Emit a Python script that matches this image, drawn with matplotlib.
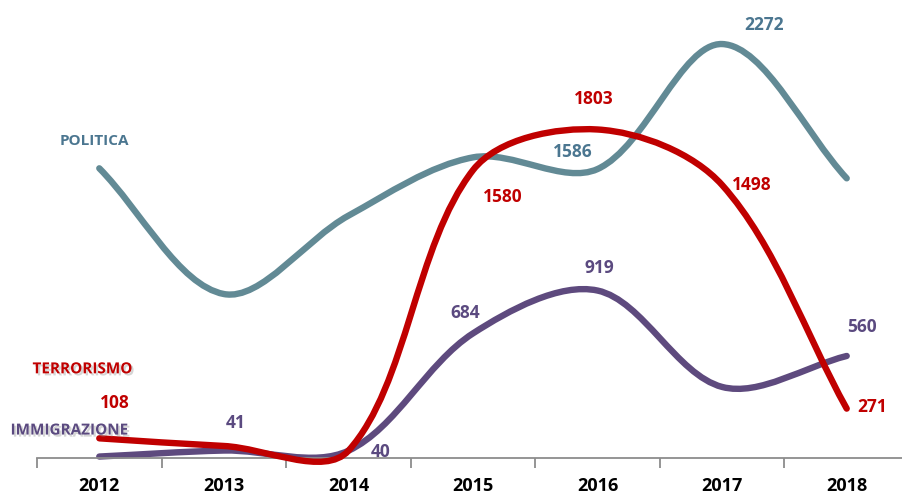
import numpy as np
import matplotlib
matplotlib.use('Agg')
import matplotlib.pyplot as plt
from matplotlib.path import Path
from matplotlib.patches import PathPatch
import matplotlib.patheffects as pe

plt.rcParams['font.family'] = ['Open Sans', 'DejaVu Sans']

years = ['2012', '2013', '2014', '2015', '2016', '2017', '2018']
politica = [1590, 900, 1330, 1650, 1586, 2272, 1535]
terrorismo = [108, 66, 40, 1580, 1803, 1498, 271]
immigrazione = [8, 41, 40, 684, 919, 390, 560]

C_POL = '#628a95'
C_POL_TXT = '#4b7690'
C_TER = '#c00000'
C_IMM = '#5e4a7e'
C_IMM_TXT = '#5b4a80'

fig = plt.figure(figsize=(9.03, 4.95), dpi=100)
ax = fig.add_axes([37 / 903, 37 / 495, 872 / 903, 455.5 / 495])
ax.set_xlim(-0.5, 6.5)
ax.set_ylim(0, 2500)

for s in ['top', 'right', 'left']:
    ax.spines[s].set_visible(False)
ax.spines['bottom'].set_color('#8c8c8c')
ax.spines['bottom'].set_linewidth(1.3)
ax.set_yticks([])
x = np.arange(len(years))
ax.set_xticks(x)
ax.set_xticklabels(years, fontsize=13, fontweight='bold', color='black')
ax.set_xticks(np.arange(-0.5, 7, 1), minor=True)
ax.tick_params(axis='x', which='major', length=0, pad=14)
ax.tick_params(axis='x', which='minor', length=7, width=1.3, color='#8c8c8c', direction='out')


def smooth_path(xs, ys):
    pts = ax.transData.transform(np.column_stack([xs, ys]).astype(float))
    n = len(pts)
    d = np.hypot(*np.diff(pts, axis=0).T)
    verts = [pts[0]]
    codes = [Path.MOVETO]
    for i in range(n - 1):
        p0, p1 = pts[i], pts[i + 1]
        prev = pts[i - 1] if i > 0 else pts[i]
        nxt = pts[i + 2] if i + 2 < n else pts[i + 1]
        dprev = d[i - 1] if i > 0 else 0.0
        dnext = d[i + 1] if i + 2 < n else 0.0
        c1 = p0 + (p1 - prev) / 3 * d[i] / (dprev + d[i])
        c2 = p1 - (nxt - p0) / 3 * d[i] / (d[i] + dnext)
        verts += [c1, c2, p1]
        codes += [Path.CURVE4] * 3
    vd = ax.transData.inverted().transform(np.array(verts))
    return Path(vd, codes)


for vals, col, z in [(immigrazione, C_IMM, 2), (politica, C_POL, 3), (terrorismo, C_TER, 4)]:
    patch = PathPatch(smooth_path(x, vals), fill=False, edgecolor=col, lw=4.6,
                      capstyle='round', joinstyle='round', zorder=z, clip_on=False)
    ax.add_patch(patch)

def lab(i, series, text, dx, dy, color, size=12.5, shadow=False):
    t = ax.annotate(text, xy=(i, series[i]), xytext=(dx, dy), textcoords='offset pixels',
                    ha='center', va='center', fontsize=size, fontweight='bold', color=color,
                    zorder=6, annotation_clip=False)
    if shadow:
        t.set_path_effects([pe.withSimplePatchShadow(offset=(1.5, -1.5), shadow_rgbFace='#888888', alpha=0.35)])
    return t

# data labels
lab(5, politica, str(politica[5]), 42, 19, C_POL_TXT)
lab(4, politica, str(politica[4]), -25, 17, C_POL_TXT)
lab(4, terrorismo, str(terrorismo[4]), -4, 30, C_TER)
lab(3, terrorismo, str(terrorismo[3]), 30, -27, C_TER)
lab(5, terrorismo, str(terrorismo[5]), 30, 0, C_TER)
lab(6, terrorismo, str(terrorismo[6]), 25, 2, C_TER)
lab(0, terrorismo, str(terrorismo[0]), 16, 35, C_TER)
lab(1, immigrazione, str(immigrazione[1]), 12, 28, C_IMM_TXT)
lab(2, immigrazione, str(immigrazione[2]), 32, -1, C_IMM_TXT)
lab(3, immigrazione, str(immigrazione[3]), -8, 20, C_IMM_TXT)
lab(4, immigrazione, str(immigrazione[4]), 2, 23, C_IMM_TXT)
lab(6, immigrazione, str(immigrazione[6]), 15, 29, C_IMM_TXT)

# series names
lab(0, politica, 'POLITICA', -5, 27, C_POL_TXT, size=11)
lab(0, terrorismo, 'TERRORISMO', -17, 69, C_TER, size=11, shadow=True)
lab(0, immigrazione, 'IMMIGRAZIONE', -30, 26, C_IMM_TXT, size=11, shadow=True)

fig.savefig('out.png', dpi=100)
